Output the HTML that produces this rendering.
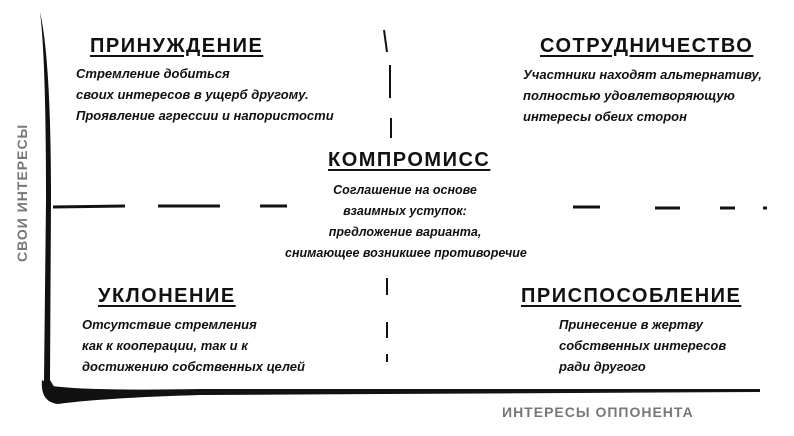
<!DOCTYPE html>
<html><head><meta charset="utf-8"><style>
body{margin:0;width:794px;height:436px;background:#fff;position:relative;overflow:hidden;font-family:"Liberation Sans","DejaVu Sans",sans-serif;color:#111}
.t{position:absolute;font-weight:bold;font-size:20px;letter-spacing:1.5px;text-decoration:underline;text-decoration-thickness:2px;text-underline-offset:3px;white-space:nowrap;line-height:24px}
.b{position:absolute;font-style:italic;font-weight:bold;font-size:13px;line-height:21px;white-space:nowrap}
.c{text-align:center}
</style></head><body>
<svg width="794" height="436" style="position:absolute;left:0;top:0">
<path d="M40 12 Q46 60 46 200 L44 380 Q44 400 60 398 L56 390 L50 380 L51 200 Q51 60 40 12Z" fill="#111"/>
<path d="M42 380 Q40 402 58 404 Q100 398 200 395 L760 392 L760 389 L200 389 Q90 391 52 386Z" fill="#111"/>
<g stroke="#111" stroke-width="3">
<line x1="53" y1="207" x2="125" y2="206"/><line x1="158" y1="206" x2="220" y2="206"/><line x1="260" y1="206" x2="287" y2="206"/>
<line x1="573" y1="207" x2="600" y2="207"/><line x1="655" y1="208" x2="680" y2="208"/><line x1="720" y1="208" x2="735" y2="208"/><line x1="763" y1="208" x2="767" y2="208"/>
</g>
<g stroke="#111" stroke-width="2">
<line x1="384" y1="30" x2="387" y2="52"/><line x1="390" y1="65" x2="390" y2="98"/><line x1="391" y1="118" x2="391" y2="138"/>
<line x1="387" y1="278" x2="387" y2="295"/><line x1="387" y1="322" x2="387" y2="338"/><line x1="387" y1="354" x2="387" y2="362"/>
</g>
</svg>
<div style="position:absolute;left:14px;top:262px;transform:rotate(-90deg);transform-origin:0 0;font-size:14px;letter-spacing:1px;color:#777;font-weight:bold;white-space:nowrap">СВОИ ИНТЕРЕСЫ</div>
<div style="position:absolute;left:502px;top:404px;font-size:14px;letter-spacing:1px;color:#777;font-weight:bold;white-space:nowrap">ИНТЕРЕСЫ ОППОНЕНТА</div>

<div class="t" style="left:90px;top:34px">ПРИНУЖДЕНИЕ</div>
<div class="b" style="left:76px;top:63px">Стремление добиться<br>своих интересов в ущерб другому.<br>Проявление агрессии и напористости</div>

<div class="t" style="left:540px;top:34px">СОТРУДНИЧЕСТВО</div>
<div class="b" style="left:523px;top:64px">Участники находят альтернативу,<br>полностью удовлетворяющую<br>интересы обеих сторон</div>

<div class="t" style="left:328px;top:148px">КОМПРОМИСС</div>
<div class="b c" style="left:285px;top:180px;width:240px;font-size:12.5px">Соглашение на основе<br>взаимных уступок:<br>предложение варианта,<br>снимающее возникшее противоречие</div>

<div class="t" style="left:98px;top:284px">УКЛОНЕНИЕ</div>
<div class="b" style="left:82px;top:314px">Отсутствие стремления<br>как к кооперации, так и к<br>достижению собственных целей</div>

<div class="t" style="left:521px;top:284px">ПРИСПОСОБЛЕНИЕ</div>
<div class="b" style="left:559px;top:314px">Принесение в жертву<br>собственных интересов<br>ради другого</div>
</body></html>
